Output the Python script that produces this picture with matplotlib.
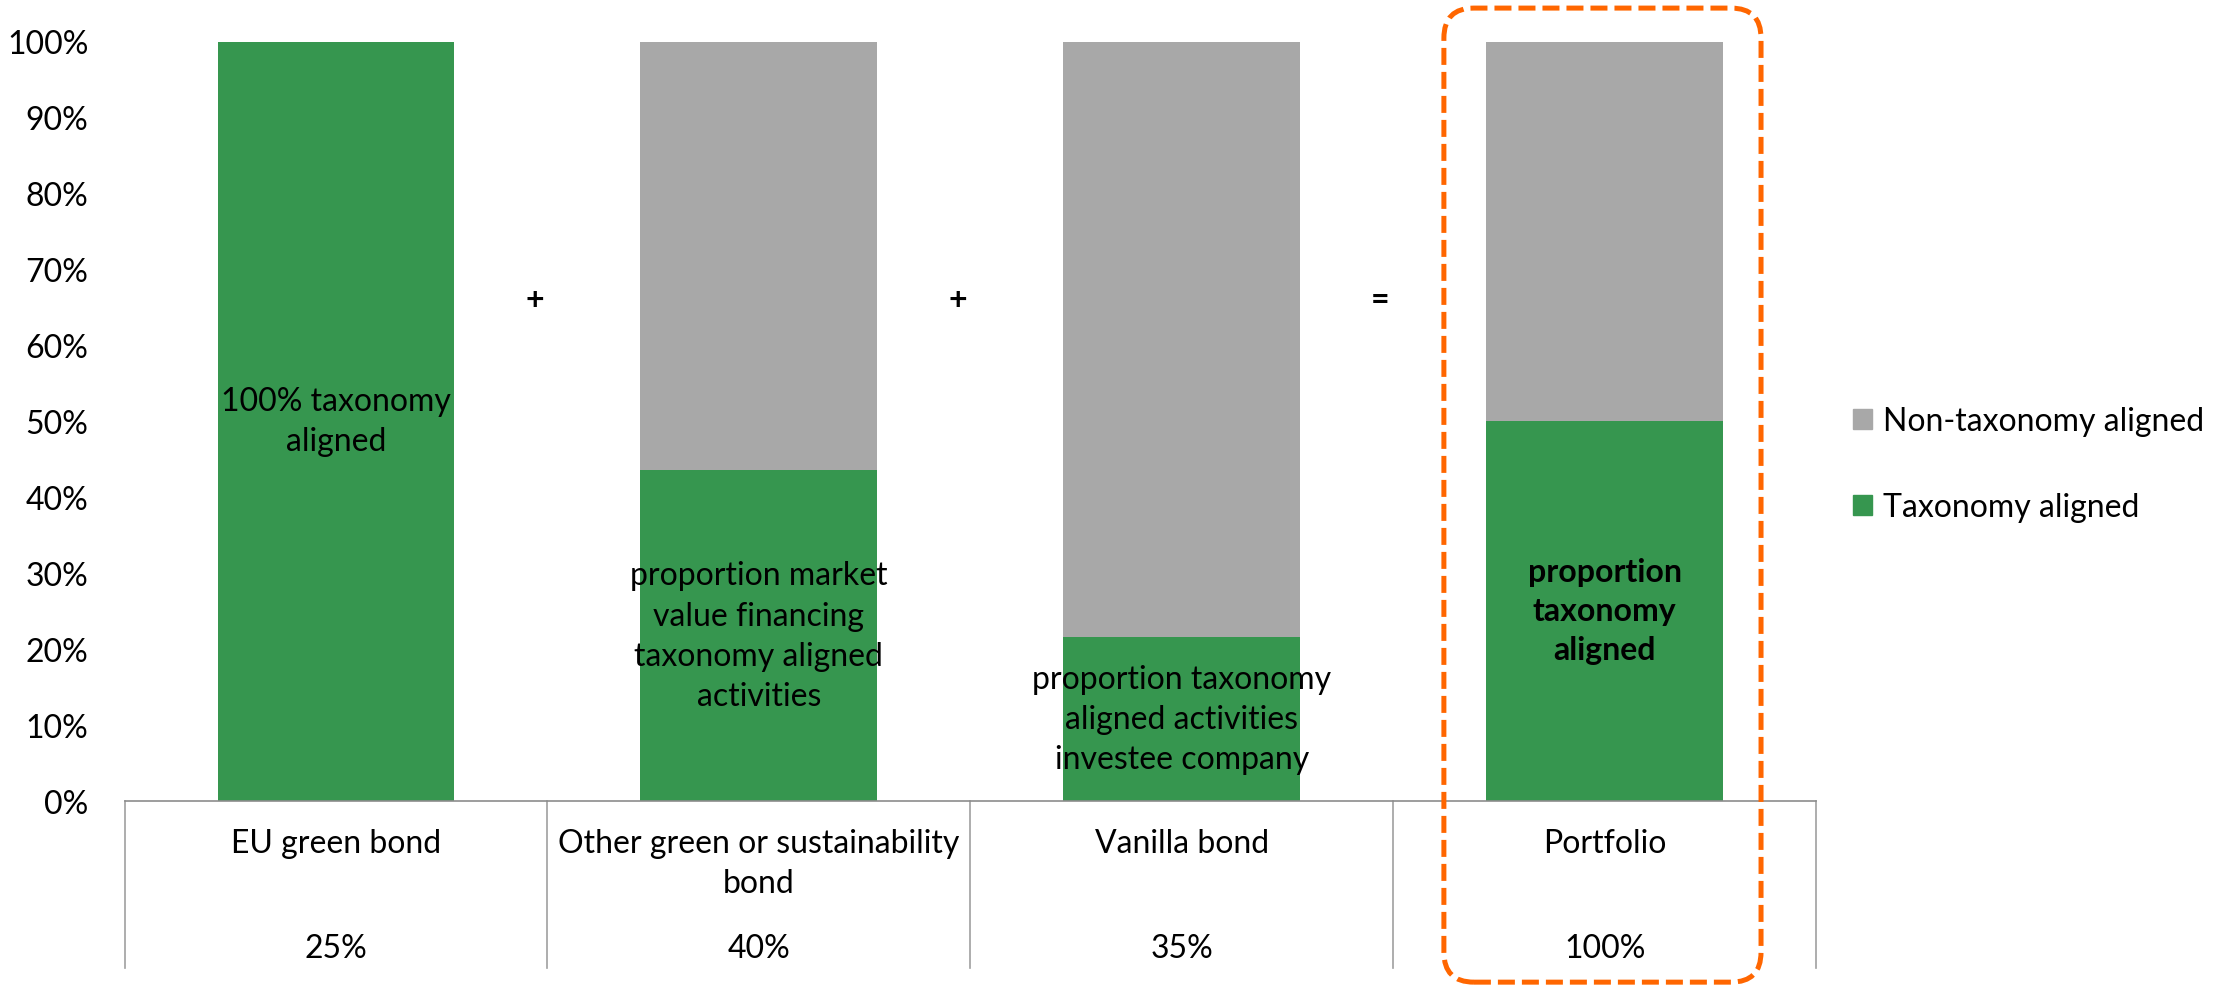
import matplotlib.pyplot as plt
from matplotlib.patches import FancyBboxPatch, Patch
from matplotlib.transforms import blended_transform_factory

plt.rcParams['font.family'] = ['Lato', 'DejaVu Sans']

# data
categories = ['EU green bond', 'Other green or sustainability\nbond', 'Vanilla bond', 'Portfolio']
weights = ['25%', '40%', '35%', '100%']
aligned = [100, 43.5, 21.5, 50]
non_aligned = [100 - v for v in aligned]
bar_labels = ['100% taxonomy\naligned',
              'proportion market\nvalue financing\ntaxonomy aligned\nactivities',
              'proportion taxonomy\naligned activities\ninvestee company',
              'proportion\ntaxonomy\naligned']
operators = ['+', '+', '=']

GREEN = '#36964F'
GREY = '#A8A8A8'
ORANGE = '#FF6600'
LINE = '#8C8C8C'
FS = 23
LS = 1.42

W, H = 2221, 987
fig = plt.figure(figsize=(W / 100, H / 100), dpi=100)
ax = fig.add_axes([124.6 / W, (H - 801.7) / H, (1816 - 124.6) / W, (801.7 - 42.5) / H])

x = list(range(len(categories)))
ax.bar(x, aligned, width=0.56, color=GREEN, label='Taxonomy aligned')
ax.bar(x, non_aligned, width=0.56, bottom=aligned, color=GREY, label='Non-taxonomy aligned')

ax.set_xlim(-0.5, len(categories) - 0.5)
ax.set_ylim(0, 100)
ax.set_yticks(range(0, 101, 10))
ax.set_yticklabels([f'{v}%' for v in range(0, 101, 10)], fontsize=FS)
ax.tick_params(axis='y', length=0, pad=26)
ax.set_xticks([])
for s in ['left', 'right', 'top']:
    ax.spines[s].set_visible(False)
ax.spines['bottom'].set_color(LINE)
ax.spines['bottom'].set_linewidth(1.2)

# labels inside the green part
for i, (lab, v) in enumerate(zip(bar_labels, aligned)):
    ax.text(i, v / 2, lab, ha='center', va='center', fontsize=FS,
            fontweight='bold' if i == 3 else 'normal', linespacing=LS)

# + + = between bars
for i, op in enumerate(operators):
    ax.text(i + 0.47, 66, op, ha='center', va='center', fontsize=FS, fontweight='bold')

# table under the axis
tr = blended_transform_factory(ax.transData, ax.transAxes)
for i in range(len(categories) + 1):
    ax.plot([i - 0.5, i - 0.5], [0, -0.221], transform=tr, color='#A0A0A0',
            lw=1.2, clip_on=False)
for i, (cat, w) in enumerate(zip(categories, weights)):
    ax.text(i, -0.036, cat, transform=tr, ha='center', va='top', fontsize=FS,
            linespacing=LS)
    ax.text(i, -0.194, w, transform=tr, ha='center', va='center', fontsize=FS)

# legend
handles = [Patch(color=GREY), Patch(color=GREEN)]
fig.legend(handles, ['Non-taxonomy aligned', 'Taxonomy aligned'],
           loc='center left', bbox_to_anchor=(1853 / W, (H - 465) / H),
           frameon=False, fontsize=FS, handlelength=0.6, handleheight=0.6,
           handletextpad=0.35, labelspacing=1.75, borderpad=0, borderaxespad=0)

# dashed orange box around the portfolio column
x0 = ax.transData.transform((2.62, 0))[0] / 100
x1 = ax.transData.transform((3.37, 0))[0] / 100
y0 = ax.transAxes.transform((0, -0.239))[1] / 100
y1 = ax.transAxes.transform((0, 1.044))[1] / 100
box = FancyBboxPatch((x0, y0), x1 - x0, y1 - y0,
                     boxstyle='round,pad=0,rounding_size=0.3',
                     transform=fig.dpi_scale_trans, fill=False, edgecolor=ORANGE,
                     lw=3.6, linestyle=(0, (3.4, 1.4)), clip_on=False)
fig.patches.append(box)

fig.savefig('out.png', dpi=100)
